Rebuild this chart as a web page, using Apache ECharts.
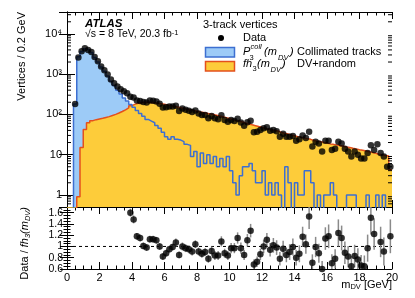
<!DOCTYPE html>
<html><head><meta charset="utf-8">
<script src="https://cdn.jsdelivr.net/npm/echarts@6/dist/echarts.min.js"></script>
<style>html,body{margin:0;padding:0;background:#fff}#c{width:415px;height:298px}</style>
</head><body><div id="c"></div>
<script>
// ---------------- data (0.2 GeV bins, 0-20 GeV) ----------------
const binWidth = 0.2;
const xMin = 0, xMax = 20;
const dataCounts = [
  0, 0, 180, 2600, 3700, 4400, 4000, 3550, 2650, 2100,
  1550, 1250, 980, 740, 590, 490, 420, 375, 333, 275,
  262, 222, 215, 202, 198, 222, 219, 210, 184, 148,
  151, 157, 157, 164, 122, 141, 131, 124, 114, 125,
  105, 97, 96, 80, 91, 80, 76, 95, 73, 66,
  73, 69, 78, 63, 52, 64, 70, 36, 37, 41,
  45, 48, 39, 41, 38, 28, 33, 28, 28, 29,
  22, 24, 30, 26, 37, 16, 21, 19, 12, 22,
  22, 13, 14, 21, 19, 14, 12, 9, 12, 10,
  8, 8, 11, 17, 13, 18, 11, 9, 5, 5
];
const collimatedCounts = [
  0, 0, 180, 2700, 3650, 4300, 3950, 3450, 2600, 2000,
  1500, 1180, 900, 670, 520, 400, 320, 255, 215, 175,
  150, 125, 105, 90, 75, 68, 62, 53, 45, 36,
  28, 24, 28, 24, 23, 21, 18, 17, 9, 12,
  5, 11, 6, 10, 6, 9, 5, 8, 5, 9,
  4, 2, 1, 3, 5, 5, 6, 4, 2, 2,
  4, 1, 2, 1, 2, 1, 0, 5, 2, 0,
  2, 1, 1, 4, 4, 2, 0, 1, 0, 1,
  1, 2, 1, 0, 0, 0, 1, 1, 1, 0,
  0, 0, 1, 0, 0, 1, 0, 1, 0, 0
];
const dvRandomCounts = [
  0, 0, 0, 0.9, 15, 42, 62, 70, 74, 77,
  80, 84, 88, 94, 100, 108, 118, 130, 145, 165,
  180, 190, 197, 200, 200, 198, 195, 190, 184, 178,
  172, 165, 159, 153, 147, 141, 135, 130, 125, 120,
  115, 111, 107, 103, 99, 95, 91, 87, 83, 79,
  75, 71, 68, 65, 61, 58, 55, 52.5, 50, 48,
  45, 43, 41.5, 40, 38.5, 35.5, 34, 32.5, 31, 29.5,
  28, 27, 26, 25, 24, 22.5, 21.5, 21, 20.3, 19.5,
  18.5, 18, 17.4, 16.8, 16.2, 15.5, 15, 14.4, 13.9, 13.3,
  12.8, 12.3, 11.8, 11.3, 10.8, 10.2, 9.9, 9.5, 9.2, 4.2
];
const ratioValues = [
  null, null, null, null, null, null, null, null, null, null,
  null, null, null, null, null, null, null, null, null,
  1.60, 1.48, 1.18, 1.15, 1.01, 0.98, 1.13, 1.13, 1.11, 1.00,
  0.82, 0.88, 0.95, 0.99, 1.07, 0.85, 1.00, 0.97, 0.95, 0.91,
  1.04, 0.91, 0.87, 0.90, 0.78, 0.92, 0.84, 0.84, 1.09, 0.88,
  0.84, 0.97, 0.97, 1.15, 0.97, 0.85, 1.11, 1.28, 0.68, 0.73,
  0.86, 1.00, 1.12, 0.94, 1.02, 0.98, 0.78, 0.96, 0.85, 0.90,
  0.99, 0.80, 0.87, 1.17, 1.04, 1.53, 0.71, 0.99, 0.88, 0.60,
  1.14, 1.18, 0.70, 0.78, 1.24, 1.15, 0.89, 0.82, 0.65, 0.83,
  0.77, 0.66, 0.65, 0.97, 1.51, 1.22, 1.76, 1.08, 0.91, 0.54,
  1.18
];
const ratioErrors = [
  null, null, null, null, null, null, null, null, null, null,
  null, null, null, null, null, null, null, null, null,
  0.07, 0.07, 0.06, 0.06, 0.06, 0.06, 0.06, 0.06, 0.06, 0.06,
  0.06, 0.06, 0.06, 0.06, 0.07, 0.06, 0.07, 0.07, 0.07, 0.07,
  0.07, 0.07, 0.07, 0.07, 0.07, 0.08, 0.08, 0.08, 0.09, 0.08,
  0.08, 0.09, 0.09, 0.10, 0.10, 0.09, 0.11, 0.12, 0.09, 0.09,
  0.10, 0.12, 0.12, 0.12, 0.13, 0.13, 0.12, 0.14, 0.13, 0.14,
  0.15, 0.14, 0.15, 0.18, 0.17, 0.22, 0.15, 0.18, 0.17, 0.14,
  0.20, 0.21, 0.16, 0.17, 0.24, 0.22, 0.20, 0.19, 0.18, 0.20,
  0.20, 0.19, 0.19, 0.24, 0.30, 0.28, null, 0.27, 0.25, null,
  0.30
];
const xTickValues = [0, 2, 4, 6, 8, 10, 12, 14, 16, 18, 20];
const yDecadeLabels = {0: '1', 1: '10', 2: '10²', 3: '10³', 4: '10⁴'};
const ratioTickLabels = ['0.6', '0.8', '1', '1.2', '1.4', '1.6'];

// ---------------- style ----------------
const FONT = '"Liberation Sans", Arial, Helvetica, sans-serif';
const YMIN = 0.5, YMAX = 35000, RMIN = 0.6, RMAX = 1.7;
const BLUE_FILL = '#9dcbf7', BLUE_LINE = '#3d6fd1';
const ORANGE_FILL = '#fdcc3a', ORANGE_LINE = '#e4501c';
const FLOOR = 0.05; // empty bins drawn below the axis minimum

function stepData(arr) {
  const pts = arr.map((v, i) => [i * binWidth, v > 0 ? v : FLOOR]);
  pts.push([xMax, arr[arr.length - 1] > 0 ? arr[arr.length - 1] : FLOOR]);
  return pts;
}
const dataPoints = [];
dataCounts.forEach((v, i) => { if (v > 0) dataPoints.push([(i + 0.5) * binWidth, v]); });
const ratioPoints = [], ratioBars = [];
ratioValues.forEach((v, i) => {
  if (v == null) return;
  const x = (i + 0.5) * binWidth;
  ratioPoints.push([x, v]);
  if (ratioErrors[i] != null) ratioBars.push([x, v, ratioErrors[i]]);
});
const minorLog = [];
for (let e = -1; e <= 4; e++) for (let m = 2; m <= 9; m++) {
  const v = m * Math.pow(10, e);
  if (v > YMIN && v < YMAX) minorLog.push([0, v]);
}

const axisLineStyle = {show: true, lineStyle: {color: '#000', width: 1}};
function xAx(grid, pos, showLabel) {
  return {
    type: 'value', gridIndex: grid, position: pos, min: xMin, max: xMax, interval: 2,
    axisLine: axisLineStyle,
    axisTick: {show: true, inside: true, length: 7, lineStyle: {color: '#000'}},
    minorTick: {show: true, splitNumber: 4, length: 3.5, lineStyle: {color: '#000'}},
    splitLine: {show: false}, minorSplitLine: {show: false},
    axisLabel: {show: showLabel, color: '#000', fontSize: 11, fontFamily: FONT, margin: 3}
  };
}

const chart = echarts.init(document.getElementById('c'), null, {renderer: 'canvas'});
const option = {
  animation: false,
  backgroundColor: '#fff',
  grid: [
    {left: 67, top: 12, width: 325, height: 195},
    {left: 67, top: 207, width: 325, height: 62}
  ],
  xAxis: [
    xAx(0, 'bottom', false), xAx(0, 'top', false),
    xAx(1, 'bottom', true), xAx(1, 'top', false)
  ],
  yAxis: [
    {
      type: 'log', logBase: 10, gridIndex: 0, position: 'left', min: YMIN, max: YMAX,
      axisLine: axisLineStyle,
      axisTick: {show: true, inside: true, length: 8, lineStyle: {color: '#000'}},
      splitLine: {show: false},
      axisLabel: {
        color: '#000', fontSize: 11, fontFamily: FONT, margin: 5,
        formatter: v => {
          const e = Math.round(Math.log10(v));
          if (Math.abs(Math.log10(v) - e) > 1e-6) return '';
          return yDecadeLabels[e] || '';
        }
      }
    },
    {
      type: 'log', logBase: 10, gridIndex: 0, position: 'right', min: YMIN, max: YMAX,
      axisLine: axisLineStyle,
      axisTick: {show: true, inside: true, length: 8, lineStyle: {color: '#000'}},
      splitLine: {show: false}, axisLabel: {show: false}
    },
    {
      type: 'value', gridIndex: 1, position: 'left', min: RMIN, max: RMAX, interval: 0.2,
      axisLine: axisLineStyle,
      axisTick: {show: true, inside: true, length: 7, lineStyle: {color: '#000'}},
      minorTick: {show: true, splitNumber: 4, length: 3.5, lineStyle: {color: '#000'}},
      splitLine: {show: false},
      axisLabel: {
        color: '#000', fontSize: 10.5, lineHeight: 10, fontFamily: FONT, margin: 4,
        showMaxLabel: false, showMinLabel: true, hideOverlap: false,
        formatter: v => { const s = String(+v.toFixed(2)); return ratioTickLabels.indexOf(s) >= 0 ? s : ''; }
      }
    },
    {
      type: 'value', gridIndex: 1, position: 'right', min: RMIN, max: RMAX, interval: 0.2,
      axisLine: axisLineStyle,
      axisTick: {show: true, inside: true, length: 7, lineStyle: {color: '#000'}},
      minorTick: {show: true, splitNumber: 4, length: 3.5, lineStyle: {color: '#000'}},
      splitLine: {show: false}, axisLabel: {show: false}
    }
  ],
  series: [
    {
      name: 'coll-fill', type: 'line', step: 'end', xAxisIndex: 0, yAxisIndex: 0,
      data: stepData(collimatedCounts), symbol: 'none', z: 1,
      lineStyle: {width: 0}, areaStyle: {color: BLUE_FILL, opacity: 1}
    },
    {
      name: 'dv', type: 'line', step: 'end', xAxisIndex: 0, yAxisIndex: 0,
      data: stepData(dvRandomCounts), symbol: 'none', z: 2,
      lineStyle: {width: 1.5, color: ORANGE_LINE}, areaStyle: {color: ORANGE_FILL, opacity: 1}
    },
    {
      name: 'coll-line', type: 'line', step: 'end', xAxisIndex: 0, yAxisIndex: 0,
      data: stepData(collimatedCounts), symbol: 'none', z: 3,
      lineStyle: {width: 1.5, color: BLUE_LINE}
    },
    {
      name: 'data', type: 'scatter', xAxisIndex: 0, yAxisIndex: 0, z: 5,
      data: dataPoints, symbol: 'circle', symbolSize: 6.5, itemStyle: {color: '#000'}
    },
    {
      name: 'minorLog', type: 'custom', xAxisIndex: 0, yAxisIndex: 0, z: 6, silent: true,
      data: minorLog, encode: {x: 0, y: 1},
      renderItem: (params, api) => {
        const v = api.value(1);
        const pL = api.coord([xMin, v]), pR = api.coord([xMax, v]);
        return {type: 'group', children: [
          {type: 'line', shape: {x1: pL[0], y1: pL[1], x2: pL[0] + 4, y2: pL[1]}, style: {stroke: '#000', lineWidth: 1}},
          {type: 'line', shape: {x1: pR[0], y1: pR[1], x2: pR[0] - 4, y2: pR[1]}, style: {stroke: '#000', lineWidth: 1}}
        ]};
      }
    },
    {
      name: 'unity', type: 'line', xAxisIndex: 2, yAxisIndex: 2, z: 2,
      data: [[xMin, 1], [xMax, 1]], symbol: 'none',
      lineStyle: {color: '#000', width: 1, type: [3, 3]}
    },
    {
      name: 'ratio-err', type: 'custom', xAxisIndex: 2, yAxisIndex: 2, z: 3, silent: true,
      data: ratioBars, encode: {x: 0, y: 1},
      renderItem: (params, api) => {
        const x = api.value(0), r = api.value(1), e = api.value(2);
        const lo = Math.max(r - e, RMIN), hi = Math.min(r + e, RMAX);
        if (lo >= hi) return null;
        const p1 = api.coord([x, lo]), p2 = api.coord([x, hi]);
        return {type: 'line', shape: {x1: p1[0], y1: p1[1], x2: p2[0], y2: p2[1]}, style: {stroke: '#8a8a8a', lineWidth: 1.5}};
      }
    },
    {
      name: 'ratio', type: 'scatter', xAxisIndex: 2, yAxisIndex: 2, z: 4, clip: true,
      data: ratioPoints, symbol: 'circle', symbolSize: 6.5, itemStyle: {color: '#000'}
    }
  ],
  graphic: [
    {type: 'text', x: 85, y: 24, style: {text: 'ATLAS', font: 'italic bold 11.5px ' + FONT, fill: '#000', align: 'left', verticalAlign: 'middle'}},
    {type: 'text', x: 85, y: 34, style: {
      text: '√s = 8 TeV, 20.3 fb{sup|-1}', font: '10.5px ' + FONT, fill: '#000', align: 'left', verticalAlign: 'middle',
      rich: {sup: {fontSize: 7.5, fontFamily: FONT, verticalAlign: 'top', lineHeight: 8}}
    }},
    {type: 'text', x: 203, y: 25, style: {text: '3-track vertices', font: '11px ' + FONT, fill: '#000', align: 'left', verticalAlign: 'middle'}},
    {type: 'circle', shape: {cx: 221, cy: 38, r: 3}, style: {fill: '#000'}},
    {type: 'text', x: 243, y: 38, style: {text: 'Data', font: '11px ' + FONT, fill: '#000', align: 'left', verticalAlign: 'middle'}},
    {type: 'rect', shape: {x: 205.5, y: 47.5, width: 29, height: 9.5}, style: {fill: BLUE_FILL, stroke: BLUE_LINE, lineWidth: 1.5}},
    {type: 'rect', shape: {x: 205.5, y: 61.5, width: 29, height: 9.5}, style: {fill: ORANGE_FILL, stroke: ORANGE_LINE, lineWidth: 1.5}},
    // P_3^coll(m_DV)
    {type: 'text', x: 243, y: 52, style: {text: 'P', font: 'italic 11px ' + FONT, fill: '#000', align: 'left', verticalAlign: 'middle'}},
    {type: 'text', x: 250.5, y: 46.5, style: {text: 'coll', font: 'italic 7.5px ' + FONT, fill: '#000', align: 'left', verticalAlign: 'middle'}},
    {type: 'text', x: 249.5, y: 57.5, style: {text: '3', font: '7.5px ' + FONT, fill: '#000', align: 'left', verticalAlign: 'middle'}},
    {type: 'text', x: 264, y: 52, style: {text: '(m', font: 'italic 11px ' + FONT, fill: '#000', align: 'left', verticalAlign: 'middle'}},
    {type: 'text', x: 278, y: 58, style: {text: 'DV', font: 'italic 7.5px ' + FONT, fill: '#000', align: 'left', verticalAlign: 'middle'}},
    {type: 'text', x: 290, y: 52, style: {text: ')', font: 'italic 11px ' + FONT, fill: '#000', align: 'left', verticalAlign: 'middle'}},
    {type: 'text', x: 297, y: 52, style: {text: 'Collimated tracks', font: '11px ' + FONT, fill: '#000', align: 'left', verticalAlign: 'middle'}},
    // fh_3(m_DV)
    {type: 'text', x: 243, y: 64, style: {text: 'fh', font: 'italic 11px ' + FONT, fill: '#000', align: 'left', verticalAlign: 'middle'}},
    {type: 'text', x: 252.5, y: 68.5, style: {text: '3', font: '7.5px ' + FONT, fill: '#000', align: 'left', verticalAlign: 'middle'}},
    {type: 'text', x: 257, y: 64, style: {text: '(m', font: 'italic 11px ' + FONT, fill: '#000', align: 'left', verticalAlign: 'middle'}},
    {type: 'text', x: 270.5, y: 70, style: {text: 'DV', font: 'italic 7.5px ' + FONT, fill: '#000', align: 'left', verticalAlign: 'middle'}},
    {type: 'text', x: 282, y: 64, style: {text: ')', font: 'italic 11px ' + FONT, fill: '#000', align: 'left', verticalAlign: 'middle'}},
    {type: 'text', x: 297, y: 64, style: {text: 'DV+random', font: '11px ' + FONT, fill: '#000', align: 'left', verticalAlign: 'middle'}},
    // axis titles
    {type: 'text', x: 22, y: 12, rotation: Math.PI / 2, style: {text: 'Vertices / 0.2 GeV', font: '11px ' + FONT, fill: '#000', align: 'right', verticalAlign: 'middle'}},
    {type: 'text', x: 25, y: 207, rotation: Math.PI / 2, style: {
      text: 'Data / {i|fh}{sub|3}{i|(m}{sub|DV}{i|)}', font: '11px ' + FONT, fill: '#000', align: 'right', verticalAlign: 'middle',
      rich: {
        i: {fontStyle: 'italic', fontSize: 11, fontFamily: FONT, lineHeight: 14},
        sub: {fontSize: 7.5, fontFamily: FONT, fontStyle: 'italic', verticalAlign: 'bottom', lineHeight: 8}
      }
    }},
    {type: 'text', x: 392, y: 285, style: {
      text: 'm{sub|DV} [GeV]', font: '11px ' + FONT, fill: '#000', align: 'right', verticalAlign: 'middle',
      rich: {sub: {fontSize: 7.5, fontFamily: FONT, verticalAlign: 'bottom', lineHeight: 8}}
    }}
  ]
};
chart.setOption(option);
</script>
</body></html>
